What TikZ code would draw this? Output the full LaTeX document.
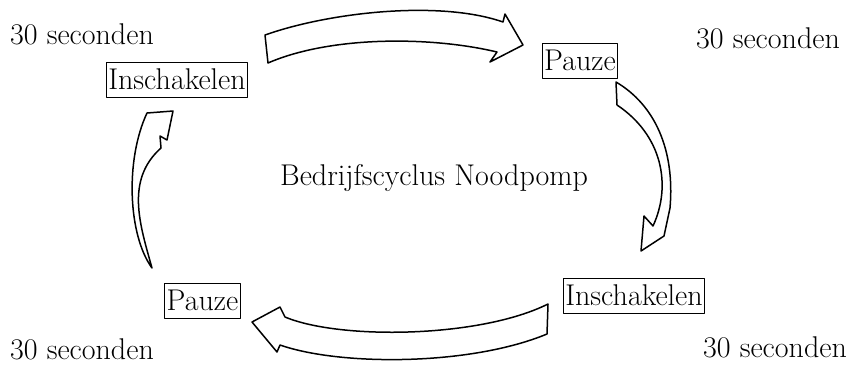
\documentclass[tikz,border=0pt]{standalone}

\begin{document}
\begin{tikzpicture}[x=1pt,y=-1pt,line cap=round,line join=round,
    font=\fontsize{30}{36}\selectfont,
    box/.style={draw,line width=0.6pt,inner xsep=2pt,inner ysep=3pt,minimum height=35pt},
    tijd/.style={inner sep=0pt},
    pijl/.style={draw,line width=1.5pt,fill=white}]
  \useasboundingbox (0,0) rectangle (853,365);
  % tijden in de hoeken
  \node[tijd] (tijdLB) at (82,34) {30 seconden};
  \node[tijd] (tijdRB) at (768,38) {30 seconden};
  \node[tijd] (tijdLO) at (82,349) {30 seconden};
  \node[tijd] (tijdRO) at (775,347) {30 seconden};
  % stappen van de cyclus
  \node[box] (inschLB) at (177,79.5) {Inschakelen};
  \node[box] (pauzeRB) at (580,60.5) {Pauze};
  \node[box] (inschRO) at (634,295.5) {Inschakelen};
  \node[box] (pauzeLO) at (202.5,300.5) {Pauze};
  \node (titel) at (434,178) {Bedrijfscyclus Noodpomp};
  % bovenste pijl, naar rechts
  \path[pijl] (265,35) .. controls (330,12) and (440,0) .. (503,22) -- (505,14) -- (523,45)
    -- (490,62) -- (497,52) .. controls (430,36) and (330,36) .. (268,63) -- cycle;
  % rechter pijl, omlaag
  \path[pijl] (616,82) .. controls (655,105) and (675,150) .. (670,208) -- (664,236) -- (641,251)
    -- (644,216) -- (653,226) .. controls (672,185) and (662,135) .. (617,105) -- cycle;
  % onderste pijl, naar links
  \path[pijl] (548,304) .. controls (480,338) and (340,340) .. (285,317) -- (280,307) -- (252,322)
    -- (277,352) -- (280,345) .. controls (340,366) and (470,366) .. (547,334) -- cycle;
  % linker pijl, omhoog
  \path[pijl] (152,268) .. controls (128,235) and (125,160) .. (147,113) -- (173,111) -- (167,140)
    -- (160,136) -- (161,148) .. controls (125,180) and (140,225) .. (152,268) -- cycle;
\end{tikzpicture}
\end{document}
